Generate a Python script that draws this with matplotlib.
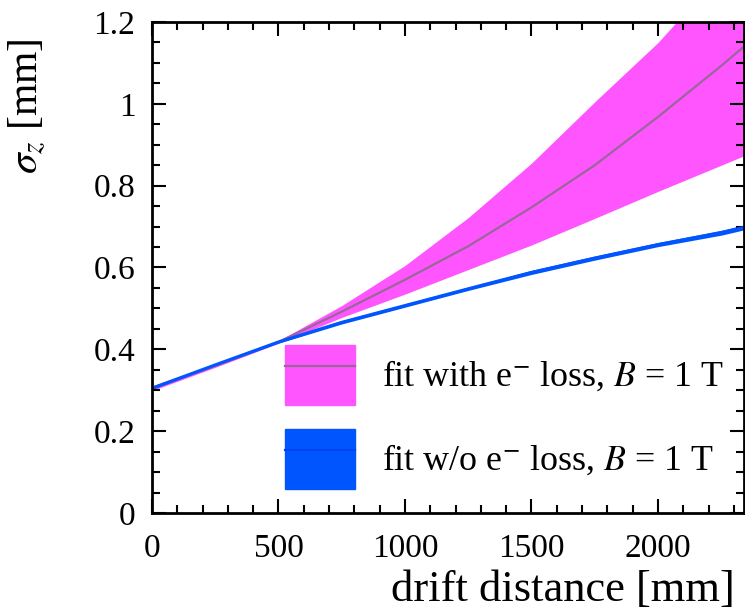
import matplotlib
matplotlib.use('Agg')
import matplotlib.pyplot as plt
from matplotlib.patches import Patch
from matplotlib.lines import Line2D
from matplotlib.ticker import MultipleLocator, FuncFormatter

plt.rcParams['font.family'] = ['Liberation Serif', 'DejaVu Serif']
plt.rcParams['mathtext.fontset'] = 'stix'

# drift distance [mm]
dist = [0, 250, 500, 750, 1000, 1250, 1500, 1750, 2000, 2250, 2340]

# fit with e- loss (centre, upper, lower edge of band)
with_mid = [0.305, 0.360, 0.418, 0.492, 0.570, 0.652, 0.747, 0.850, 0.968, 1.093, 1.140]
with_hi  = [0.311, 0.364, 0.421, 0.507, 0.605, 0.722, 0.855, 1.005, 1.150, 1.320, 1.385]
with_lo  = [0.299, 0.356, 0.415, 0.478, 0.535, 0.595, 0.655, 0.720, 0.786, 0.850, 0.873]

# fit without e- loss
wo_mid = [0.305, 0.362, 0.418, 0.466, 0.507, 0.548, 0.588, 0.623, 0.656, 0.685, 0.698]
wo_err = [0.003, 0.003, 0.003, 0.004, 0.004, 0.004, 0.005, 0.005, 0.005, 0.006, 0.006]

labels = [r'fit with e$^{-}$ loss, $B$ = 1 T',
          r'fit w/o e$^{-}$ loss, $B$ = 1 T']

magenta = '#ff55ff'
blue = '#0055ff'

fig = plt.figure(figsize=(7.45, 6.16), dpi=100)
ax = fig.add_axes([152/745, 1 - 513/616, 592/745, 491/616])

ax.fill_between(dist, with_lo, with_hi, color=magenta, lw=0)
ax.plot(dist, with_mid, color='#996699', lw=1.6)
wo_lo = [m - e for m, e in zip(wo_mid, wo_err)]
wo_hi = [m + e for m, e in zip(wo_mid, wo_err)]
ax.fill_between(dist, wo_lo, wo_hi, color=blue, lw=0)
ax.plot(dist, wo_mid, color=blue, lw=2.2)

ax.set_xlim(0, 2340)
ax.set_ylim(0, 1.2)

ax.xaxis.set_major_locator(MultipleLocator(500))
ax.xaxis.set_minor_locator(MultipleLocator(100))
ax.yaxis.set_major_locator(MultipleLocator(0.2))
ax.yaxis.set_minor_locator(MultipleLocator(0.05))
ax.yaxis.set_major_formatter(FuncFormatter(lambda v, p: ('%g' % round(v, 2))))

ax.tick_params(which='both', direction='in', top=True, right=True, width=1.5, labelsize=24)
ax.tick_params(which='major', length=10)
ax.tick_params(which='minor', length=5.5)
ax.tick_params(axis='x', pad=15)
ax.tick_params(axis='y', pad=12)
for s in ax.spines.values():
    s.set_linewidth(2)

ax.set_xlabel('drift distance [mm]', fontsize=32, loc='right')
ax.xaxis.set_label_coords((735 - 152) / 592, (513 - 570) / 491)
ax.set_ylabel(r'$\sigma_z$ [mm]', fontsize=30, loc='top')
ax.yaxis.set_label_coords((48 - 152) / 592, (513 - 38) / 491)

h1 = (Patch(facecolor=magenta, edgecolor=magenta), Line2D([], [], color='#996699', lw=1.6))
h2 = (Patch(facecolor=blue, edgecolor=blue), Line2D([], [], color='#0044ee', lw=1.6))
fs = 25.8
fpx = fs * 100 / 72
ax.legend([h1, h2], labels, loc='lower left', bbox_to_anchor=(133/592, 24/491),
          frameon=False, borderpad=0, borderaxespad=0, fontsize=fs,
          handlelength=70/fpx, handleheight=(60/fpx - 0.245) / 0.65,
          handletextpad=27/fpx, labelspacing=24/fpx)

fig.savefig('out.png', dpi=100)
